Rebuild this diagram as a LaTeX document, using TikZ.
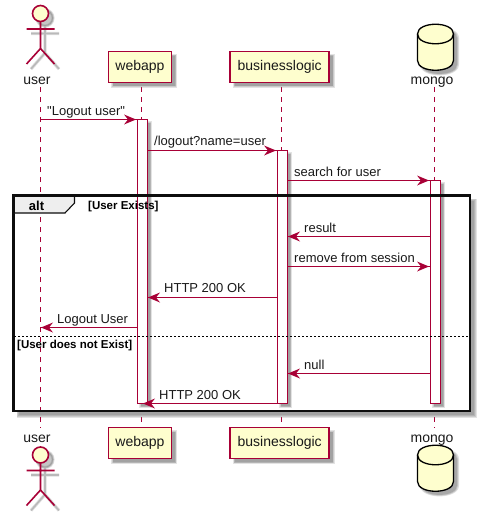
\documentclass[tikz,border=0pt]{standalone}
\usepackage{fontspec}
\setmainfont{Liberation Sans}
\newfontfamily\plainf{Liberation Sans}
\definecolor{pu}{HTML}{A80036}
\definecolor{bx}{HTML}{FEFECE}
\definecolor{sh}{HTML}{808080}
\definecolor{tabf}{HTML}{EEEEEE}
\tikzset{x=1pt,y=-1pt,
  part/.style={draw=pu,fill=bx,line width=1.6pt,minimum width=#1,minimum height=31pt,inner sep=0pt,font=\fontsize{14}{16}\selectfont,text=black!90},
  lbl/.style={inner sep=0pt,font=\fontsize{13}{15}\selectfont,text=black!90},
  plbl/.style={inner sep=0pt,font=\fontsize{14}{16}\selectfont,text=black!90},
  guard/.style={inner sep=0pt,font=\bfseries\fontsize{11.5}{13}\selectfont,anchor=base west,text=black},
  msg/.style={draw=pu,line width=1pt},
  life/.style={draw=pu,line width=.8pt,dash pattern=on 5pt off 5pt},
  bar/.style={draw=pu,line width=1pt}}
\newcommand{\softbox}[4]{%
  \foreach \e/\o in {1.5/.22,.7/.25,0/.3,-.7/.35}{
    \fill[sh,opacity=\o] (#1-\e,#2-\e) rectangle (#3+\e,#4+\e);}}
\newcommand{\tiphead}[3]{\fill[pu] (#1,#2) -- ++(#3*-12,-5) -- ++(#3*4,5) -- ++(#3*-4,5) -- cycle;}
\newcommand{\actorfig}[2]{%
  \foreach \w/\o in {3.2/.25,1.6/.4}{
  \draw[sh,line width=\w pt,opacity=\o] (#1+4.5,#2+4.5) circle (8) (#1+4.5,#2+12.5) -- (#1+4.5,#2+39.5) (#1-9.5,#2+20) -- (#1+18.5,#2+20) (#1+4.5,#2+39.5) -- (#1-9.5,#2+55.5) (#1+4.5,#2+39.5) -- (#1+18.5,#2+55.5);}
  \fill[sh,opacity=.45] (#1+4.5,#2+4.5) circle (8);
  \draw[pu,line width=1.6pt,fill=bx] (#1,#2) circle (8);
  \draw[pu,line width=1.6pt] (#1,#2+8) -- (#1,#2+35) (#1-14,#2+15.5) -- (#1+14,#2+15.5) (#1,#2+35) -- (#1-14,#2+50.5) (#1,#2+35) -- (#1+14,#2+50.5);}
\newcommand{\dbfig}[1]{%
  \foreach \e/\o in {1.5/.25,0.5/.3,-.5/.4}{
  \fill[sh,opacity=\o] (421.5-\e,#1+4) .. controls (421.5-\e,#1-9-\e) and (457.5+\e,#1-9-\e) .. (457.5+\e,#1+4) -- (457.5+\e,#1+30.5) .. controls (457.5+\e,#1+43.5+\e) and (421.5-\e,#1+43.5+\e) .. (421.5-\e,#1+30.5) -- cycle;}
  \draw[black,line width=1.3pt,fill=bx] (417.5,#1) .. controls (417.5,#1-13) and (453.5,#1-13) .. (453.5,#1) -- (453.5,#1+26.5) .. controls (453.5,#1+39.5) and (417.5,#1+39.5) .. (417.5,#1+26.5) -- cycle;
  \draw[black,line width=1.3pt] (417.5,#1) .. controls (417.5,#1+13) and (453.5,#1+13) .. (453.5,#1);}
\begin{document}
\begin{tikzpicture}
\useasboundingbox (0,0) rectangle (480,516);
% lifelines
\coordinate (lu1) at (40.5,87); \coordinate (lu2) at (40.5,428);
\coordinate (lw1) at (141,87); \coordinate (lw2) at (141,427);
\coordinate (lb1) at (281.5,87); \coordinate (lb2) at (281.5,427);
\coordinate (lm1) at (434.5,87); \coordinate (lm2) at (434.5,428);
\draw[life] (lw1) -- (lw2);
\draw[life] (lb1) -- (lb2);
\draw[life] (lm1) -- (lm2);
% frame shadow and ground
\softbox{18}{200}{475}{416}
\fill[white] (13.5,195.5) rectangle (470,411);
\draw[life] (lu1) -- (lu2);
% bar shadows and bars
\softbox{140.5}{122.5}{150.5}{406.5}
\softbox{280.5}{153.5}{290.5}{406.5}
\softbox{433.5}{183.5}{443.5}{406.5}
\fill[white] (137.5,119.5) rectangle (147.5,403.5);
\fill[white] (277.5,150.5) rectangle (287.5,403.5);
\fill[white] (430.5,180.5) rectangle (440.5,403.5);
\draw[bar] (137.5,119.5) rectangle (147.5,403.5);
\draw[bar] (277.5,150.5) rectangle (287.5,403.5);
\draw[bar] (430.5,180.5) rectangle (440.5,403.5);
% actors
\actorfig{40.5}{13.5}
\node[plbl,anchor=base] (utop) at (37,85) {user};
\actorfig{40.5}{455}
\node[plbl,anchor=base] (ubot) at (37,442) {user};
% boxes
\foreach \nm/\cx/\wid/\y/\tx in {wt/140/63/67/webapp,wb/140/63/443/webapp,bt/279.7/99/67/businesslogic,bb/279.7/99/443/businesslogic}{
  \softbox{\cx-\wid/2+4}{\y-15.5+4}{\cx+\wid/2+4}{\y+15.5+4}
  \node[part=\wid pt] (\nm) at (\cx,\y) {\tx};
}
\dbfig{34}
\node[plbl,anchor=base] (mtop) at (432,85) {mongo};
\dbfig{455}
\node[plbl,anchor=base] (mbot) at (432,442) {mongo};
% frame outline
\draw[black!95,line width=2.2pt] (13.5,195.5) rectangle (470,411);
\path[fill=tabf,draw=black!95,line width=1.1pt] (13.5,195.5) -- (74.5,195.5) -- (74.5,203) -- (65,213) -- (13.5,213) -- cycle;
\draw[black!95,line width=2.2pt] (13.5,213) -- (13.5,195.5) -- (74.5,195.5);
\node[inner sep=0pt,font=\bfseries\fontsize{13}{15}\selectfont,anchor=base] (altn) at (36.5,210) {alt};
\node[guard] (g1) at (88,209) {[User Exists]};
\draw[black,line width=.8pt,dash pattern=on 2pt off 2pt] (14,336) -- (470,336);
\node[guard] (g2) at (17,348) {[User does not Exist]};
% messages
\draw[msg] (40.5,119.5) -- (137,119.5); \tiphead{136}{119.5}{1}
\node[lbl,anchor=base west] at (47,115) {\plainf "Logout user"};
\draw[msg] (147.5,150.5) -- (277,150.5); \tiphead{276}{150.5}{1}
\node[lbl,anchor=base west] at (154,145.5) {/logout?name=user};
\draw[msg] (287.5,180.5) -- (430,180.5); \tiphead{429}{180.5}{1}
\node[lbl,anchor=base west] at (294,176) {search for user};
\draw[msg] (430.5,236.5) -- (288,236.5); \tiphead{288}{236.5}{-1}
\node[lbl,anchor=base west] at (304,232) {result};
\draw[msg] (287.5,266.5) -- (430,266.5); \tiphead{429}{266.5}{1}
\node[lbl,anchor=base west] at (294,262) {remove from session};
\draw[msg] (277.5,297.5) -- (148,297.5); \tiphead{148}{297.5}{-1}
\node[lbl,anchor=base west] at (164,292.5) {HTTP 200 OK};
\draw[msg] (137.5,327.5) -- (41,327.5); \tiphead{41}{327.5}{-1}
\node[lbl,anchor=base west] at (57,323) {Logout User};
\draw[msg] (430.5,373.5) -- (288,373.5); \tiphead{288}{373.5}{-1}
\node[lbl,anchor=base west] at (304,369) {null};
\draw[msg] (277.5,403.5) -- (143,403.5); \tiphead{143}{403.5}{-1}
\node[lbl,anchor=base west] at (159,399) {HTTP 200 OK};
\end{tikzpicture}
\end{document}
